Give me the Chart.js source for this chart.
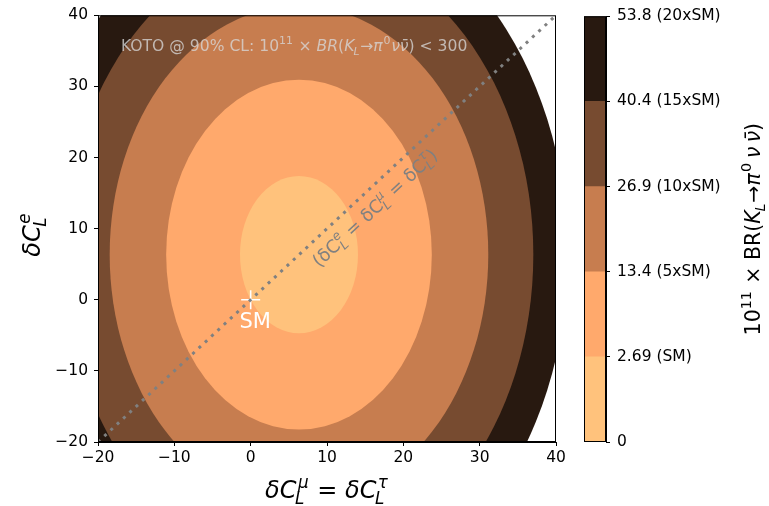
<!DOCTYPE html>
<html>
<head>
<meta charset="utf-8">
<script src="https://cdn.jsdelivr.net/npm/chart.js@4.4.1/dist/chart.umd.min.js"></script>
<style>
  html, body { margin: 0; padding: 0; background: #fff; }
  #wrap { position: relative; width: 769px; height: 506px; }
  #wrap canvas { position: absolute; left: 0; top: 0; }
</style>
</head>
<body>
<div id="wrap">
  <canvas id="main" width="769" height="506"></canvas>
  <canvas id="cbar" width="769" height="506"></canvas>
</div>
<script>
// contour levels, 10^11 x BR(K_L -> pi0 nu nubar)
const levelValues = [0, 2.69, 13.4, 26.9, 40.4, 53.8];
const levelLabels = ['0', '2.69 (SM)', '13.4 (5xSM)', '26.9 (10xSM)', '40.4 (15xSM)', '53.8 (20xSM)'];
const levelColors = ['#ffc27c', '#ffa96c', '#c77d4f', '#774b30', '#281910'];

// contour ellipses (centre + half axes, one per upper level)
const contourCenterX = 6.33;
const contourCenterY = 6.35;
const contourRadiusX = [7.73, 17.4, 24.8, 30.7, 35.2];
const contourRadiusY = [11.05, 24.6, 35.0, 43.6, 49.8];

// diagonal deltaC^e = deltaC^mu = deltaC^tau
const diagX = [-20, 40];
const diagY = [-20, 40];

// Standard Model point
const smX = [0];
const smY = [0];

const FONT = '"DejaVu Sans"';
Chart.defaults.font.family = FONT;
Chart.defaults.color = '#000';

const minus = v => String(v).replace('-', '\u2212');

// tiny mathtext-like helper: base text with optional sub/superscript
function mathRuns(ctx, tokens, size, draw, x0, y0) {
    let x = x0;
    const f = (it, s) => (it ? 'italic ' : '') + s + 'px ' + FONT;
    for (const tk of tokens) {
        ctx.font = f(tk.it, size);
        const w = ctx.measureText(tk.t).width;
        if (draw) ctx.fillText(tk.t, x, y0);
        let adv = w;
        if (tk.sup || tk.sub) {
            const ss = size * 0.7;
            const sit = tk.sit === undefined ? tk.it : tk.sit;
            ctx.font = f(sit, ss);
            let sw = 0;
            if (tk.sup) {
                const slant = tk.it ? size * 0.06 : 0;
                if (draw) ctx.fillText(tk.sup, x + w + slant, y0 - size * 0.43);
                sw = Math.max(sw, ctx.measureText(tk.sup).width + slant);
            }
            if (tk.sub) {
                const back = tk.it ? -size * 0.06 : 0;
                if (draw) ctx.fillText(tk.sub, x + w + back, y0 + size * 0.24);
                sw = Math.max(sw, ctx.measureText(tk.sub).width + back);
            }
            adv += sw + size * 0.04;
        }
        x += adv;
    }
    return x - x0;
}

function drawMath(ctx, tokens, size, x, y, angle, color, align) {
    ctx.save();
    ctx.translate(x, y);
    ctx.rotate(angle);
    ctx.fillStyle = color;
    ctx.textAlign = 'left';
    ctx.textBaseline = 'alphabetic';
    const w = mathRuns(ctx, tokens, size, false, 0, 0);
    mathRuns(ctx, tokens, size, true, align === 'left' ? 0 : -w / 2, 0);
    ctx.restore();
}

const brTokens = [
    { t: '10', sup: '11' }, { t: ' \u00d7 BR(' }, { t: 'K', it: true, sub: 'L' }, { t: '\u2192' },
    { t: '\u03c0', it: true, sup: '0', sit: false }, { t: '\u2009\u03bd\u2009\u03bd\u0304', it: true }, { t: ')' }
];
const kotoTokens = [
    { t: 'KOTO @ 90% CL: 10', sup: '11' }, { t: ' \u00d7 ' }, { t: 'BR', it: true }, { t: '(' },
    { t: 'K', it: true, sub: 'L' }, { t: '\u2192' }, { t: '\u03c0', it: true, sup: '0', sit: false },
    { t: '\u03bd\u03bd\u0304', it: true }, { t: ') < 300' }
];
const xTitleTokens = [
    { t: '\u03b4C', it: true, sub: 'L', sup: '\u03bc' }, { t: ' = ' },
    { t: '\u03b4C', it: true, sub: 'L', sup: '\u03c4' }
];
const yTitleTokens = [{ t: '\u03b4C', it: true, sub: 'L', sup: 'e' }];
const diagTokens = [
    { t: '(' }, { t: '\u03b4C', sub: 'L', sup: 'e', sit: true }, { t: ' = ' },
    { t: '\u03b4C', sub: 'L', sup: '\u03bc', sit: true }, { t: ' = ' },
    { t: '\u03b4C', sub: 'L', sup: '\u03c4', sit: true }, { t: ')' }
];

const contourPlugin = {
    id: 'contours',
    beforeDatasetsDraw(chart) {
        const { ctx, chartArea: a, scales: { x, y } } = chart;
        ctx.save();
        ctx.beginPath();
        ctx.rect(a.left, a.top, a.right - a.left, a.bottom - a.top);
        ctx.clip();
        const cx = x.getPixelForValue(contourCenterX);
        const cy = y.getPixelForValue(contourCenterY);
        for (let i = contourRadiusX.length - 1; i >= 0; i--) {
            const rx = Math.abs(x.getPixelForValue(contourCenterX + contourRadiusX[i]) - cx);
            const ry = Math.abs(y.getPixelForValue(contourCenterY + contourRadiusY[i]) - cy);
            ctx.beginPath();
            ctx.ellipse(cx, cy, rx, ry, 0, 0, Math.PI * 2);
            ctx.fillStyle = levelColors[i];
            ctx.fill();
        }
        ctx.restore();
    },
    afterDatasetsDraw(chart) {
        const { ctx, scales: { x, y } } = chart;
        // diagonal label, rotated along the line
        const ang = Math.atan2(y.getPixelForValue(40) - y.getPixelForValue(-20),
                               x.getPixelForValue(40) - x.getPixelForValue(-20));
        drawMath(ctx, diagTokens, 18, x.getPixelForValue(16.8), y.getPixelForValue(12.3), ang, '#808080');
        // KOTO bound
        drawMath(ctx, kotoTokens, 15.6, x.getPixelForValue(-17), y.getPixelForValue(35), 0,
                 'rgba(215,215,215,0.78)', 'left');
        // SM label
        ctx.save();
        ctx.fillStyle = '#fff';
        ctx.font = '21px ' + FONT;
        ctx.textAlign = 'center';
        ctx.textBaseline = 'alphabetic';
        ctx.fillText('SM', x.getPixelForValue(0.6), y.getPixelForValue(-3.9));
        ctx.restore();
    },
    afterDraw(chart) {
        const { ctx, chartArea: a } = chart;
        ctx.save();
        ctx.strokeStyle = '#000';
        ctx.lineWidth = 1;
        ctx.strokeRect(a.left + 0.5, a.top + 0.5, a.right - a.left - 1, a.bottom - a.top - 1);
        ctx.restore();
        drawMath(ctx, xTitleTokens, 24, (a.left + a.right) / 2, 498, 0, '#000');
        drawMath(ctx, yTitleTokens, 24, 40, (a.top + a.bottom) / 2 + 6, -Math.PI / 2, '#000');
    }
};

new Chart(document.getElementById('main'), {
    type: 'scatter',
    data: {
        datasets: [
            {
                data: diagX.map((v, i) => ({ x: v, y: diagY[i] })),
                showLine: true,
                borderColor: '#808080',
                borderWidth: 3,
                borderDash: [3, 5.6],
                borderCapStyle: 'butt',
                pointRadius: 0
            },
            {
                data: smX.map((v, i) => ({ x: v, y: smY[i] })),
                pointStyle: 'cross',
                pointRadius: 9.5,
                borderColor: '#fff',
                borderWidth: 1.6
            }
        ]
    },
    options: {
        responsive: false,
        animation: false,
        devicePixelRatio: 1,
        events: [],
        layout: { padding: { left: 0, right: 213, top: 13, bottom: 0 } },
        plugins: { legend: { display: false }, tooltip: { enabled: false } },
        scales: {
            x: {
                min: -20, max: 40,
                ticks: { stepSize: 10, font: { size: 15.5 }, color: '#000', padding: 3, callback: minus },
                grid: { drawOnChartArea: false, tickLength: 4, color: '#000' },
                border: { display: true, color: '#000' },
                afterFit: s => { s.height = 64; }
            },
            y: {
                min: -20, max: 40,
                ticks: { stepSize: 10, font: { size: 15.5 }, color: '#000', padding: 6, callback: minus },
                grid: { drawOnChartArea: false, tickLength: 4, color: '#000' },
                border: { display: true, color: '#000' },
                afterFit: s => { s.width = 98; }
            }
        }
    },
    plugins: [contourPlugin]
});

// colorbar
const cbarPlugin = {
    id: 'cbarFrame',
    afterDraw(chart) {
        const { ctx, chartArea: a } = chart;
        ctx.save();
        ctx.strokeStyle = '#000';
        ctx.lineWidth = 1;
        ctx.strokeRect(a.left + 0.5, a.top + 0.5, a.right - a.left - 1, a.bottom - a.top - 1);
        ctx.restore();
        drawMath(ctx, brTokens, 20.5, 760, (a.top + a.bottom) / 2, -Math.PI / 2, '#000');
    }
};

new Chart(document.getElementById('cbar'), {
    type: 'bar',
    data: {
        labels: [''],
        datasets: levelColors.map((c, i) => ({
            data: [1],
            backgroundColor: c,
            borderWidth: 0,
            barPercentage: 1,
            categoryPercentage: 1
        }))
    },
    options: {
        responsive: false,
        animation: false,
        devicePixelRatio: 1,
        events: [],
        layout: { padding: { left: 584, right: 0, top: 13, bottom: 64 } },
        plugins: { legend: { display: false }, tooltip: { enabled: false } },
        scales: {
            x: { stacked: true, display: false },
            y: {
                stacked: true,
                position: 'right',
                min: 0, max: levelValues.length - 1,
                ticks: { stepSize: 1, font: { size: 15.5 }, color: '#000', padding: 7,
                         callback: v => levelLabels[v] },
                grid: { drawOnChartArea: false, tickLength: 4, color: '#000' },
                border: { display: true, color: '#000' },
                afterFit: s => { s.width = 163; }
            }
        }
    },
    plugins: [cbarPlugin]
});
</script>
</body>
</html>
